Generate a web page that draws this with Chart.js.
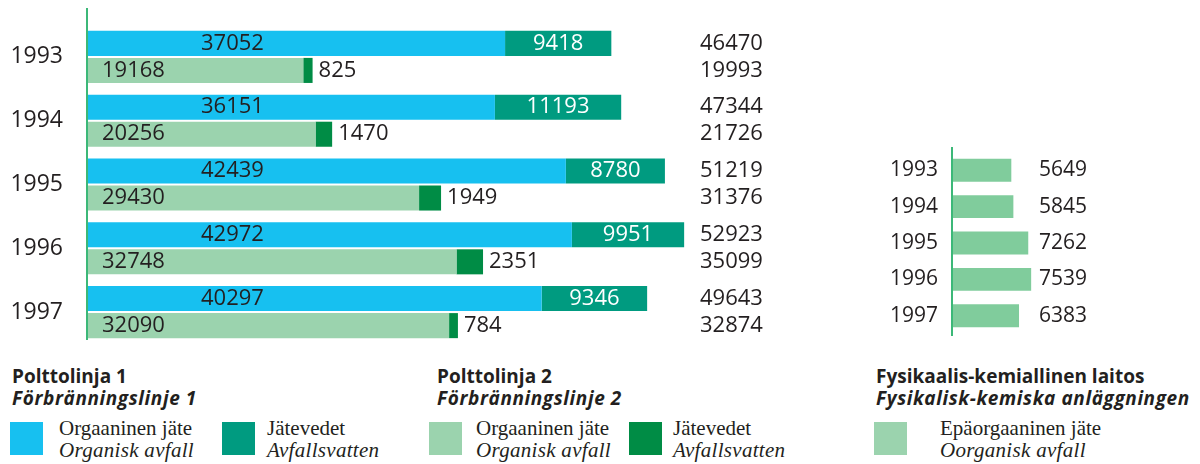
<!DOCTYPE html>
<html>
<head>
<meta charset="utf-8">
<script src="https://cdn.jsdelivr.net/npm/chart.js@4"></script>
<style>
  body { margin: 0; width: 1200px; height: 464px; background: #fff; position: relative; overflow: hidden; }
  .box { position: absolute; }
  .title { font-family: "Open Sans", sans-serif; font-weight: 700; font-size: 19px; line-height: 22px; color: #231f20; position: absolute; white-space: nowrap; }
  .title i { font-style: italic; letter-spacing: 0.6px; }
  .sw { position: absolute; width: 33px; height: 33px; }
  .lbl { position: absolute; font-family: "Liberation Serif", serif; font-size: 21px; line-height: 22px; color: #231f20; white-space: nowrap; }
  .lbl i { letter-spacing: 0.3px; }
</style>
</head>
<body>
<div class="box" style="left:0;top:0;width:800px;height:350px"><canvas id="lines"></canvas></div>
<div class="box" style="left:850px;top:140px;width:350px;height:200px"><canvas id="physchem"></canvas></div>

<div class="title" style="left:12px;top:365px">Polttolinja 1<br><i>Förbränningslinje 1</i></div>
<div class="sw" style="left:10px;top:422px;background:#17c0f0"></div>
<div class="lbl" style="left:59px;top:417px">Orgaaninen jäte<br><i>Organisk avfall</i></div>
<div class="sw" style="left:222px;top:422px;background:#009b80"></div>
<div class="lbl" style="left:267px;top:417px">Jätevedet<br><i>Avfallsvatten</i></div>

<div class="title" style="left:437px;top:365px">Polttolinja 2<br><i>Förbränningslinje 2</i></div>
<div class="sw" style="left:429px;top:422px;background:#9bd3ae"></div>
<div class="lbl" style="left:476px;top:417px">Orgaaninen jäte<br><i>Organisk avfall</i></div>
<div class="sw" style="left:629px;top:422px;background:#008c45"></div>
<div class="lbl" style="left:673px;top:417px">Jätevedet<br><i>Avfallsvatten</i></div>

<div class="title" style="left:876px;top:365px">Fysikaalis-kemiallinen laitos<br><i>Fysikalisk-kemiska anläggningen</i></div>
<div class="sw" style="left:874px;top:422px;background:#9bd3ae"></div>
<div class="lbl" style="left:940px;top:417px">Epäorgaaninen jäte<br><i>Oorganisk avfall</i></div>

<script>
const years = ["1993", "1994", "1995", "1996", "1997"];
const line1Organic = [37052, 36151, 42439, 42972, 40297];
const line1Wastewater = [9418, 11193, 8780, 9951, 9346];
const line1Totals = [46470, 47344, 51219, 52923, 49643];
const line2Organic = [19168, 20256, 29430, 32748, 32090];
const line2Wastewater = [825, 1470, 1949, 2351, 784];
const line2Totals = [19993, 21726, 31376, 35099, 32874];
const physChemInorganic = [5649, 5845, 7262, 7539, 6383];

const TEXT = "#231f20";
const NUM_FONT = '"Open Sans", sans-serif';

// vertical green axis line
const axisLine = (top, bottom) => ({
  id: "axisLine",
  afterDatasetsDraw(chart) {
    const ctx = chart.ctx;
    const x = chart.scales.x.getPixelForValue(0);
    ctx.save();
    ctx.strokeStyle = "#3cb878";
    ctx.lineWidth = 2;
    ctx.beginPath();
    ctx.moveTo(x, top);
    ctx.lineTo(x, bottom);
    ctx.stroke();
    ctx.restore();
  }
});

// y axis: fixed width, no extra label padding above/below
const fixAxis = (w) => (s) => {
  s.width = w;
  s.paddingTop = 0;
  s.paddingBottom = 0;
};

// numbers inside and next to the bars on the left chart
const lineLabels = {
  id: "lineLabels",
  afterDatasetsDraw(chart) {
    const ctx = chart.ctx;
    ctx.save();
    ctx.font = "22px " + NUM_FONT;
    ctx.textBaseline = "middle";
    const blue = chart.getDatasetMeta(0).data;
    const teal = chart.getDatasetMeta(1).data;
    const light = chart.getDatasetMeta(2).data;
    const dark = chart.getDatasetMeta(3).data;
    years.forEach((y, i) => {
      ctx.fillStyle = TEXT;
      ctx.textAlign = "left";
      ctx.fillText(line1Organic[i], 201, blue[i].y);
      ctx.fillText(line2Organic[i], 102, light[i].y);
      ctx.fillText(line2Wastewater[i], dark[i].x + 6, dark[i].y);
      ctx.fillText(line1Totals[i], 700, blue[i].y);
      ctx.fillText(line2Totals[i], 700, light[i].y);
      ctx.fillStyle = "#fff";
      ctx.textAlign = "center";
      ctx.fillText(line1Wastewater[i], (teal[i].x + teal[i].base) / 2, teal[i].y);
    });
    ctx.restore();
  }
};

new Chart(document.getElementById("lines"), {
  type: "bar",
  data: {
    labels: years,
    datasets: [
      { label: "Orgaaninen jäte 1", data: line1Organic, backgroundColor: "#17c0f0", stack: "l1" },
      { label: "Jätevedet 1", data: line1Wastewater, backgroundColor: "#009b80", stack: "l1" },
      { label: "Orgaaninen jäte 2", data: line2Organic, backgroundColor: "#9bd3ae", stack: "l2" },
      { label: "Jätevedet 2", data: line2Wastewater, backgroundColor: "#008c45", stack: "l2" }
    ]
  },
  options: {
    indexAxis: "y",
    responsive: true,
    maintainAspectRatio: false,
    animation: false,
    categoryPercentage: 0.848,
    barPercentage: 0.926,
    layout: { padding: { top: 25, bottom: 6, right: 36, left: 0 } },
    plugins: { legend: { display: false }, tooltip: { enabled: false } },
    scales: {
      x: { display: false, stacked: true, min: 0, max: 60000 },
      y: {
        stacked: true,
        grid: { display: false, drawTicks: false },
        border: { display: false },
        ticks: { color: TEXT, padding: 24, font: { family: NUM_FONT, size: 23 } },
        afterFit: fixAxis(87)
      }
    }
  },
  plugins: [axisLine(8, 340), lineLabels]
});

const physLabels = {
  id: "physLabels",
  afterDatasetsDraw(chart) {
    const ctx = chart.ctx;
    ctx.save();
    ctx.font = "21px " + NUM_FONT;
    ctx.fillStyle = TEXT;
    ctx.textBaseline = "middle";
    ctx.textAlign = "left";
    chart.getDatasetMeta(0).data.forEach((bar, i) => {
      ctx.fillText(physChemInorganic[i], 189, bar.y);
    });
    ctx.restore();
  }
};

new Chart(document.getElementById("physchem"), {
  type: "bar",
  data: {
    labels: years,
    datasets: [
      { label: "Epäorgaaninen jäte", data: physChemInorganic, backgroundColor: "#80cc9c" }
    ]
  },
  options: {
    indexAxis: "y",
    responsive: true,
    maintainAspectRatio: false,
    animation: false,
    categoryPercentage: 1,
    barPercentage: 0.63,
    layout: { padding: { top: 12, bottom: 6, right: 143, left: 0 } },
    plugins: { legend: { display: false }, tooltip: { enabled: false } },
    scales: {
      x: { display: false, min: 0, max: 10000 },
      y: {
        grid: { display: false, drawTicks: false },
        border: { display: false },
        ticks: { color: TEXT, padding: 14, font: { family: NUM_FONT, size: 21 } },
        afterFit: fixAxis(102)
      }
    }
  },
  plugins: [axisLine(7, 196), physLabels]
});
</script>
</body>
</html>
